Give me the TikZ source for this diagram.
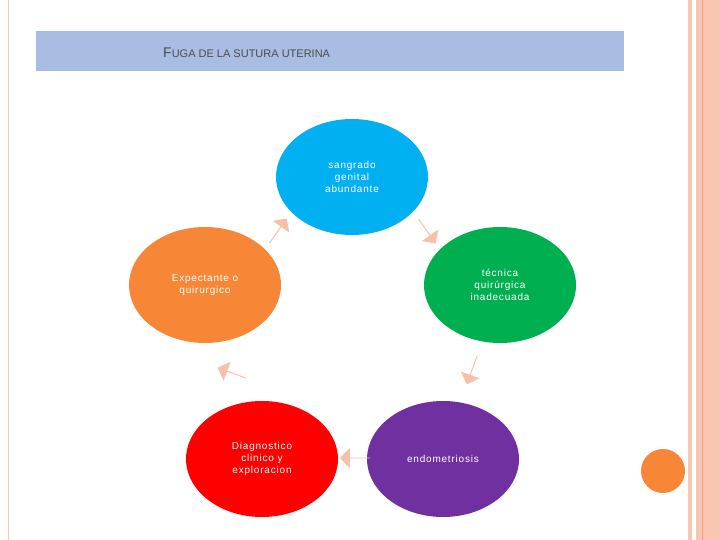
\documentclass[tikz,border=0pt]{standalone}
\usepackage{fontspec}
\setmainfont{Liberation Sans}
\usetikzlibrary{shapes.arrows,shapes.geometric}
\definecolor{arr}{HTML}{F8C0A8}
\definecolor{stripe}{HTML}{F9C6B2}
\definecolor{tbar}{HTML}{A9BDE3}
\definecolor{cb}{HTML}{00B0F0}
\definecolor{cg}{HTML}{00B050}
\definecolor{cp}{HTML}{7030A0}
\definecolor{cr}{HTML}{FF0000}
\definecolor{co}{HTML}{F78736}
\tikzset{
 bub/.style={ellipse,minimum width=152pt,minimum height=116pt,inner sep=0pt,text=white,align=center,font=\fontsize{10}{12}\selectfont\addfontfeature{LetterSpace=8}},
 ca/.style={single arrow,fill=arr,minimum width=20pt,minimum height=30pt,single arrow head extend=4pt,inner sep=0pt}
}
\begin{document}
\begin{tikzpicture}[x=1pt,y=-1pt]
\useasboundingbox (0,0) rectangle (720,540);
\fill[white] (0,0) rectangle (720,540);
\fill[stripe] (688,0) rectangle (692,540);
\fill[stripe] (696,0) rectangle (720,540);
\draw[arr!80!red,line width=0.6pt] (702,0) -- (702,540);
\draw[stripe,line width=0.8pt] (8,0) -- (8,540);
\fill[tbar] (36,31) rectangle (624,71);
\node[anchor=west,text=black!70,inner sep=0pt] (title) at (163,53) {\fontsize{14}{16}\selectfont F\fontsize{11}{13}\selectfont UGA DE LA SUTURA UTERINA};
\node[bub,fill=cb] (b) at (352,177) {sangrado\\genital\\abundante};
\node[bub,fill=cg] (g) at (500,285) {técnica\\quirúrgica\\inadecuada};
\node[bub,fill=cp] (p) at (443,459) {endometriosis};
\node[bub,fill=cr] (r) at (262,459) {Diagnostico\\clinico y\\exploracion};
\node[bub,fill=co] (o) at (205,285) {Expectante o\\quirurgico};
\node[ca,rotate=-55] (a1) at (427,231) {};
\node[ca,rotate=-110] (a2) at (472,370) {};
\node[ca,rotate=180] (a3) at (355,458) {};
\node[ca,rotate=160] (a4) at (232,373) {};
\node[ca,rotate=55] (a5) at (278,231) {};
\fill[co] (663,471) circle (22);
\end{tikzpicture}
\end{document}
